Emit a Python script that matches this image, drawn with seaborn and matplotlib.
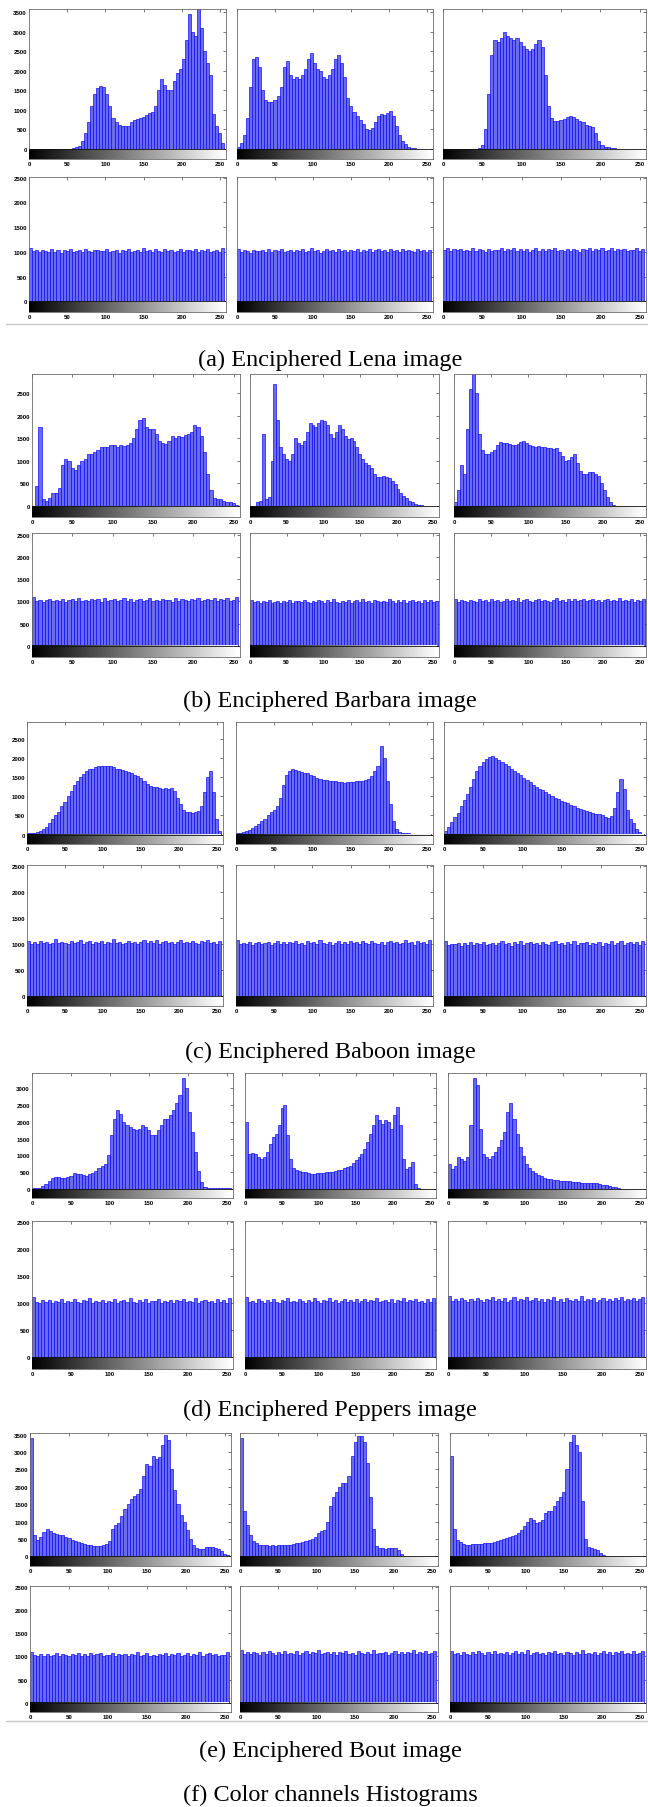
import numpy as np
import pandas as pd
import matplotlib
matplotlib.use("Agg")
import matplotlib.pyplot as plt
import seaborn as sns

# ------------------------------ data ------------------------------
# 64 bins of 4 grey levels each, value = count per grey level
levels = np.arange(2, 256, 4)

# plain images, channels R, G, B
lena_r = [0, 0, 0, 0, 0, 0, 0, 0, 0, 0, 0, 0, 5, 10, 20, 40,
          80, 200, 400, 700, 1100, 1400, 1550, 1620, 1600, 1400, 1100, 800, 700, 620, 580, 580,
          600, 680, 730, 760, 800, 820, 880, 920, 960, 1100, 1500, 1800, 1650, 1500, 1520, 1750,
          1950, 2050, 2300, 2800, 3450, 3000, 2900, 3600, 3100, 2500, 2200, 1900, 900, 600, 400, 150]
lena_g = [50, 150, 350, 800, 1600, 2300, 2350, 2100, 1500, 1250, 1200, 1200, 1250, 1350, 1600, 2100,
          2250, 1900, 1800, 1850, 1800, 1900, 2050, 2300, 2450, 2200, 2050, 2000, 1850, 1800, 1900, 2050,
          2300, 2400, 2200, 1850, 1300, 1100, 950, 850, 750, 650, 520, 480, 550, 700, 850, 900,
          880, 920, 980, 850, 600, 350, 200, 120, 60, 30, 15, 10, 5, 5, 3, 2]
lena_b = [0, 0, 0, 0, 0, 0, 0, 0, 0, 0, 5, 20, 100, 500, 1400, 2400,
          2800, 2750, 2850, 3000, 2900, 2850, 2800, 2850, 2750, 2650, 2550, 2500, 2550, 2700, 2800, 2600,
          1900, 1100, 800, 720, 720, 750, 780, 830, 850, 830, 760, 720, 680, 620, 600, 560,
          400, 200, 90, 60, 40, 25, 15, 10, 8, 5, 5, 3, 2, 2, 0, 0]

barbara_r = [0, 450, 1750, 150, 120, 180, 300, 280, 400, 900, 1050, 1000, 850, 800, 900, 1000,
             1050, 1150, 1150, 1200, 1250, 1300, 1300, 1300, 1350, 1350, 1320, 1350, 1330, 1350, 1400, 1500,
             1700, 1900, 1950, 1750, 1700, 1700, 1600, 1450, 1400, 1380, 1450, 1550, 1500, 1550, 1520, 1580,
             1600, 1650, 1800, 1750, 1550, 1200, 700, 350, 180, 160, 150, 120, 100, 80, 60, 30]
barbara_g = [0, 0, 80, 120, 1600, 150, 200, 1000, 2700, 1900, 1300, 1150, 1050, 1000, 1150, 1500,
             1400, 1350, 1450, 1650, 1850, 1800, 1750, 1850, 1900, 1880, 1800, 1600, 1500, 1650, 1800, 1700,
             1550, 1480, 1500, 1450, 1300, 1150, 1050, 950, 900, 850, 700, 650, 640, 660, 650, 620,
             560, 480, 380, 300, 230, 180, 120, 80, 50, 30, 20, 10, 5, 3, 2, 0]
barbara_b = [100, 350, 900, 700, 1700, 2600, 2950, 2500, 1600, 1250, 1150, 1150, 1200, 1250, 1350, 1420,
             1400, 1400, 1380, 1350, 1350, 1380, 1420, 1450, 1400, 1350, 1330, 1320, 1330, 1300, 1300, 1280,
             1290, 1270, 1280, 1200, 1100, 1000, 1020, 1080, 1150, 950, 780, 700, 720, 760, 760, 720,
             660, 520, 350, 200, 90, 30, 10, 3, 0, 0, 0, 0, 0, 0, 0, 0]

baboon_r = [30, 40, 50, 80, 100, 150, 200, 300, 400, 500, 600, 750, 850, 1000, 1150, 1300,
            1400, 1500, 1580, 1650, 1700, 1720, 1760, 1780, 1800, 1790, 1780, 1800, 1760, 1720, 1700, 1680,
            1650, 1630, 1600, 1560, 1520, 1480, 1400, 1320, 1280, 1250, 1240, 1220, 1200, 1210, 1200, 1220,
            1150, 950, 800, 650, 600, 580, 560, 580, 620, 750, 1100, 1500, 1650, 1100, 400, 100]
baboon_g = [30, 50, 80, 100, 130, 180, 220, 280, 350, 420, 500, 580, 650, 750, 950, 1300,
            1550, 1650, 1700, 1680, 1650, 1620, 1600, 1600, 1560, 1530, 1480, 1460, 1430, 1420, 1400, 1390,
            1400, 1380, 1360, 1350, 1370, 1380, 1380, 1390, 1400, 1410, 1430, 1450, 1520, 1650, 1800, 2300,
            2000, 1400, 800, 350, 150, 80, 50, 40, 30, 25, 20, 20, 20, 15, 15, 10]
baboon_b = [100, 200, 320, 450, 560, 750, 900, 1050, 1250, 1450, 1650, 1800, 1900, 1980, 2020, 2050,
            2000, 1950, 1900, 1830, 1780, 1720, 1650, 1600, 1550, 1480, 1420, 1370, 1300, 1250, 1200, 1160,
            1100, 1050, 1000, 960, 920, 880, 850, 820, 780, 750, 700, 670, 640, 620, 600, 570,
            550, 530, 500, 460, 430, 480, 700, 1100, 1450, 1200, 650, 420, 300, 150, 60, 20]

peppers_r = [20, 30, 40, 80, 150, 250, 330, 350, 350, 340, 340, 350, 400, 470, 460, 440,
             420, 400, 440, 490, 550, 620, 700, 750, 1000, 1600, 2100, 2350, 2250, 2000, 1900, 1850,
             1800, 1750, 1800, 1900, 1850, 1750, 1600, 1600, 1750, 1900, 2100, 2100, 2200, 2350, 2550, 2800,
             3300, 3000, 2300, 1700, 1100, 550, 200, 60, 30, 20, 20, 20, 20, 20, 20, 20]
peppers_g = [2000, 1050, 1080, 1050, 950, 880, 950, 1100, 1350, 1550, 1650, 1900, 2400, 2500, 1600, 900,
             620, 560, 540, 520, 500, 480, 460, 450, 470, 480, 480, 500, 500, 520, 540, 560,
             580, 620, 660, 700, 780, 860, 950, 1050, 1200, 1400, 1650, 1900, 2200, 2050, 1950, 2050,
             2000, 1800, 2200, 2450, 1900, 900, 600, 650, 800, 150, 30, 10, 5, 3, 2, 0]
peppers_b = [750, 600, 680, 950, 880, 820, 950, 1900, 3300, 3100, 1800, 1050, 950, 900, 980, 1100,
             1250, 1450, 1700, 2300, 2550, 2100, 1650, 1250, 980, 750, 620, 540, 470, 420, 380, 340,
             310, 290, 270, 260, 250, 250, 240, 230, 220, 210, 200, 190, 180, 180, 185, 180,
             170, 150, 130, 110, 90, 70, 50, 20, 10, 5, 3, 2, 2, 0, 0, 0]

bout_r = [3400, 600, 460, 550, 700, 790, 740, 660, 630, 610, 600, 560, 520, 480, 440, 400,
          380, 360, 340, 320, 310, 300, 310, 320, 350, 450, 800, 900, 950, 1150, 1350, 1500,
          1650, 1750, 1800, 1950, 2300, 2650, 2600, 2900, 2800, 2850, 3200, 3500, 3350, 2500, 1900, 1500,
          1200, 1000, 750, 500, 320, 230, 200, 220, 260, 270, 270, 240, 200, 140, 80, 30]
bout_g = [3400, 1300, 900, 600, 450, 380, 340, 320, 320, 310, 320, 310, 320, 320, 330, 330,
          340, 360, 380, 390, 410, 440, 470, 500, 560, 680, 720, 760, 1000, 1450, 1700, 1850,
          2000, 2100, 2100, 2300, 2900, 3300, 3450, 3450, 3300, 2700, 1700, 800, 300, 250, 230, 220,
          230, 240, 250, 180, 60, 20, 10, 5, 3, 2, 0, 0, 0, 0, 0, 0]
bout_b = [2900, 800, 480, 400, 360, 330, 340, 350, 350, 360, 360, 370, 370, 380, 400, 430,
          470, 510, 530, 550, 580, 620, 660, 760, 880, 1000, 1100, 1050, 960, 980, 1050, 1250,
          1300, 1300, 1450, 1600, 1700, 1850, 2500, 3300, 3500, 3200, 3000, 1600, 500, 260, 230, 220,
          180, 100, 50, 20, 10, 5, 3, 2, 0, 0, 0, 0, 0, 0, 0, 0]

# enciphered images, channels R, G, B
lena_enc_r = [1080, 1010, 1035, 990, 1042, 1018, 996, 1051, 1003, 1029, 984, 1040, 1012, 1057, 998, 1021,
              1036, 1004, 1068, 1015, 991, 1033, 1047, 1009, 1025, 1062, 1001, 1019, 1044, 987, 1030, 1013,
              1055, 1008, 1027, 1041, 995, 1072, 1016, 1034, 1002, 1049, 1023, 989, 1060, 1011, 1038, 1006,
              1026, 1053, 997, 1031, 1045, 1014, 1066, 1000, 1037, 1020, 1058, 993, 1028, 1046, 1007, 1074]
lena_enc_g = [1064, 1002, 1030, 1018, 985, 1047, 1011, 1026, 1039, 994, 1052, 1008, 1033, 1017, 1060, 999,
              1024, 1043, 990, 1036, 1012, 1055, 1005, 1028, 1069, 1015, 1040, 983, 1022, 1050, 1009, 1035,
              1001, 1058, 1019, 1031, 996, 1045, 1027, 1063, 1006, 1038, 1014, 1049, 992, 1029, 1056, 1010,
              1041, 1003, 1067, 1021, 1034, 988, 1053, 1016, 1044, 1025, 1000, 1059, 1013, 1037, 1007, 1048]
lena_enc_b = [1042, 1070, 1018, 1055, 1031, 1063, 1009, 1047, 1026, 1078, 1014, 1051, 1037, 1004, 1066, 1022,
              1045, 1029, 1073, 1012, 1058, 1035, 1081, 1019, 1049, 1027, 1064, 1008, 1040, 1071, 1024, 1053,
              1016, 1060, 1033, 1076, 1011, 1046, 1028, 1068, 1021, 1057, 1039, 1005, 1062, 1030, 1074, 1017,
              1050, 1036, 1069, 1023, 1044, 1080, 1013, 1056, 1032, 1065, 1020, 1048, 1038, 1072, 1025, 1059]

barbara_enc_r = [1095, 1012, 1041, 998, 1027, 1058, 1005, 1036, 1019, 1064, 993, 1030, 1049, 1008, 1072, 1016,
                 1038, 1001, 1055, 1023, 1044, 990, 1067, 1014, 1032, 1051, 1003, 1039, 1076, 1020, 1045, 997,
                 1029, 1061, 1010, 1043, 1085, 1018, 1034, 1006, 1057, 1025, 1040, 992, 1069, 1015, 1047, 1033,
                 1002, 1054, 1026, 1079, 1011, 1042, 1063, 1021, 1088, 1009, 1050, 1037, 1073, 1017, 1031, 1090]
barbara_enc_g = [1035, 982, 1004, 968, 1012, 991, 1026, 975, 998, 1019, 963, 1008, 986, 1031, 972, 1001,
                 1016, 979, 1040, 994, 966, 1011, 987, 1028, 1003, 970, 1022, 984, 1045, 996, 974, 1013,
                 989, 1033, 961, 1006, 1024, 980, 1048, 993, 1015, 969, 1037, 999, 977, 1020, 985, 1052,
                 1002, 971, 1029, 990, 1043, 976, 1009, 1036, 983, 1018, 965, 1025, 997, 1041, 981, 1010]
barbara_enc_b = [1050, 992, 1021, 1007, 985, 1036, 1014, 998, 1044, 1003, 1027, 989, 1060, 1011, 1032, 995,
                 1018, 1053, 1000, 1039, 1008, 1066, 993, 1024, 1047, 1013, 987, 1030, 1058, 1005, 1041, 1016,
                 996, 1035, 1070, 1009, 1026, 990, 1045, 1019, 1062, 1002, 1033, 1054, 999, 1028, 1065, 1012,
                 1038, 994, 1023, 1057, 1006, 1043, 1015, 1075, 1001, 1034, 1020, 1049, 997, 1037, 1010, 1055]

baboon_enc_r = [1060, 1005, 1032, 995, 1048, 1017, 1039, 1001, 1027, 1085, 1010, 1043, 1022, 999, 1058, 1014,
                1035, 1070, 1008, 1029, 1051, 992, 1038, 1019, 1064, 1003, 1045, 1025, 1090, 1012, 1037, 1000,
                1026, 1054, 1016, 1041, 997, 1033, 1067, 1009, 1047, 1021, 1078, 1006, 1030, 1052, 1015, 1040,
                1002, 1036, 1083, 1018, 1044, 1011, 1062, 1024, 996, 1049, 1028, 1071, 1013, 1034, 1004, 1057]
baboon_enc_g = [1075, 990, 1018, 1002, 1033, 985, 1026, 1045, 997, 1012, 1038, 980, 1021, 1054, 1006, 1030,
                993, 1041, 1015, 1060, 1000, 1027, 988, 1049, 1010, 1035, 996, 1068, 1019, 1003, 1044, 982,
                1024, 1056, 1008, 1031, 991, 1052, 1013, 1039, 1001, 1063, 1016, 994, 1047, 1022, 1005, 1036,
                987, 1029, 1058, 1011, 1042, 998, 1025, 1066, 1009, 1034, 983, 1051, 1017, 1040, 995, 1072]
baboon_enc_b = [1050, 975, 1003, 992, 1021, 968, 1010, 986, 1034, 979, 1015, 998, 1042, 971, 1007, 1026,
                984, 1013, 1047, 990, 1019, 966, 1031, 1001, 1055, 982, 1009, 1037, 994, 1024, 977, 1044,
                1005, 988, 1028, 1060, 996, 1016, 973, 1039, 1000, 1052, 985, 1023, 1011, 1046, 980, 1018,
                993, 1035, 969, 1027, 1004, 1058, 987, 1020, 1049, 978, 1012, 1041, 997, 1030, 983, 1065]

peppers_enc_r = [1110, 1030, 1008, 1052, 1019, 1065, 999, 1040, 1023, 1081, 1006, 1047, 1015, 1071, 1028, 1002,
                 1056, 1035, 1090, 1012, 1044, 1021, 1068, 1004, 1050, 1027, 1075, 1010, 1039, 1062, 1017, 1096,
                 1031, 1001, 1058, 1024, 1085, 1013, 1046, 1033, 1072, 1007, 1042, 1020, 1066, 1000, 1054, 1036,
                 1079, 1014, 1049, 1026, 1093, 1009, 1038, 1060, 1018, 1045, 1003, 1070, 1029, 1057, 1011, 1100]
peppers_enc_g = [1120, 1025, 1050, 1011, 1069, 1037, 1004, 1058, 1022, 1085, 1030, 1009, 1063, 1041, 1095, 1016,
                 1048, 1027, 1072, 1035, 1003, 1061, 1019, 1088, 1044, 1013, 1066, 1032, 1100, 1024, 1055, 1008,
                 1039, 1076, 1017, 1051, 1029, 1083, 1006, 1046, 1070, 1021, 1057, 1036, 1092, 1014, 1043, 1065,
                 1026, 1079, 1010, 1053, 1034, 1097, 1018, 1060, 1040, 1074, 1023, 1049, 1007, 1081, 1031, 1105]
peppers_enc_b = [1140, 1048, 1075, 1032, 1090, 1056, 1021, 1083, 1044, 1102, 1060, 1029, 1087, 1052, 1115, 1038,
                 1070, 1045, 1096, 1026, 1063, 1108, 1040, 1079, 1054, 1120, 1035, 1068, 1092, 1047, 1076, 1030,
                 1085, 1058, 1112, 1042, 1071, 1024, 1099, 1061, 1036, 1082, 1050, 1125, 1039, 1073, 1057, 1094,
                 1028, 1067, 1103, 1046, 1080, 1033, 1088, 1064, 1118, 1043, 1077, 1055, 1098, 1037, 1069, 1106]

bout_enc_r = [1090, 1028, 1003, 1045, 1017, 1060, 1009, 1036, 1072, 1012, 1049, 1024, 1001, 1058, 1033, 1079,
              1015, 1042, 1006, 1065, 1027, 1051, 1084, 1011, 1038, 1020, 1070, 1004, 1046, 1030, 1062, 1013,
              1055, 1025, 1092, 1008, 1040, 1068, 1019, 1035, 1000, 1057, 1029, 1081, 1014, 1047, 1022, 1066,
              1005, 1039, 1075, 1018, 1052, 1031, 1087, 1010, 1044, 1063, 1021, 1056, 1002, 1037, 1026, 1095]
bout_enc_g = [1130, 1060, 1085, 1042, 1100, 1067, 1031, 1092, 1055, 1118, 1073, 1040, 1096, 1062, 1125, 1050,
              1081, 1058, 1110, 1036, 1075, 1120, 1048, 1089, 1065, 1135, 1044, 1078, 1103, 1057, 1086, 1039,
              1095, 1069, 1122, 1052, 1080, 1033, 1108, 1071, 1046, 1093, 1061, 1140, 1049, 1083, 1066, 1105,
              1037, 1077, 1114, 1056, 1090, 1043, 1099, 1074, 1128, 1053, 1087, 1064, 1112, 1047, 1079, 1116]
bout_enc_b = [1115, 1055, 1078, 1036, 1094, 1062, 1027, 1088, 1050, 1112, 1068, 1034, 1091, 1057, 1120, 1045,
              1076, 1053, 1104, 1031, 1070, 1116, 1043, 1085, 1060, 1130, 1039, 1073, 1098, 1052, 1082, 1035,
              1090, 1064, 1118, 1047, 1075, 1029, 1102, 1066, 1041, 1088, 1056, 1135, 1044, 1079, 1061, 1100,
              1032, 1072, 1109, 1051, 1086, 1038, 1094, 1069, 1123, 1048, 1081, 1059, 1107, 1042, 1074, 1126]

captions = ["(a) Enciphered Lena image", "(b) Enciphered Barbara image",
            "(c) Enciphered Baboon image", "(d) Enciphered Peppers image",
            "(e) Enciphered Bout image"]
final_caption = "(f) Color channels Histograms"
xtick_vals = [0, 50, 100, 150, 200, 250]

plain = [[lena_r, lena_g, lena_b], [barbara_r, barbara_g, barbara_b],
         [baboon_r, baboon_g, baboon_b], [peppers_r, peppers_g, peppers_b],
         [bout_r, bout_g, bout_b]]
cipher = [[lena_enc_r, lena_enc_g, lena_enc_b], [barbara_enc_r, barbara_enc_g, barbara_enc_b],
          [baboon_enc_r, baboon_enc_g, baboon_enc_b], [peppers_enc_r, peppers_enc_g, peppers_enc_b],
          [bout_enc_r, bout_enc_g, bout_enc_b]]

# ------------------------------ layout (pixels) ------------------------------
W, H = 648, 1808
cols = [[(29, 226), (237, 433), (443, 646)],
        [(32, 240), (250, 439), (454, 646)],
        [(27, 223), (236, 433), (444, 646)],
        [(32, 233), (245, 436), (448, 646)],
        [(30, 231), (240, 438), (450, 646)]]
rows = [[(10, 160), (178, 313)],
        [(375, 518), (534, 658)],
        [(723, 845), (866, 1007)],
        [(1074, 1199), (1222, 1370)],
        [(1434, 1567), (1587, 1713)]]
ylims = [[(-256, 3585), (-214, 2513)],
         [(-243, 2928), (-248, 2537)],
         [(-244, 2935), (-190, 2513)],
         [(-268, 3457), (-216, 2520)],
         [(-278, 3550), (-200, 2520)]]
caption_y = [360, 701, 1052, 1410, 1751]

sns.set_theme(style="white")
plt.rcParams['font.family'] = ['Liberation Sans', 'DejaVu Sans']

FACE = '#6a6aec'
EDGE = '#0000ff'
grad = np.linspace(0, 1, 256)[None, :]

fig = plt.figure(figsize=(W / 100, H / 100), dpi=100)


def draw_panel(rect, counts, ylo, yhi, ylabels):
    ax = fig.add_axes(rect)
    df = pd.DataFrame({'level': levels, 'count': counts})
    sns.histplot(data=df, x='level', weights='count', binwidth=4, binrange=(0, 256),
                 ax=ax, color=FACE, edgecolor=EDGE, linewidth=0.45, alpha=1)
    ax.imshow(grad, cmap='gray', extent=(0, 255, ylo, 0), aspect='auto', zorder=3)
    ax.axhline(0, color='#111111', lw=0.6, zorder=4)
    ax.set_xlim(0, 258)
    ax.set_ylim(ylo, yhi)
    ax.set_xlabel('')
    ax.set_ylabel('')
    ax.set_xticks(xtick_vals)
    ax.set_yticks(np.arange(0, yhi, 500))
    ax.tick_params(direction='in', length=2.5, width=0.5, color='#444444',
                   top=True, right=True, labelsize=4.4, pad=1.5, labelcolor='black')
    for lab in ax.get_xticklabels() + ax.get_yticklabels():
        lab.set_fontweight('bold')
    if not ylabels:
        ax.set_yticklabels([])
    for s in ax.spines.values():
        s.set_color('#6a6a6a')
        s.set_linewidth(0.6)
    return ax


for g in range(5):
    for r, series in enumerate([plain[g], cipher[g]]):
        y0, y1 = rows[g][r]
        ylo, yhi = ylims[g][r]
        for c in range(3):
            x0, x1 = cols[g][c]
            rect = [x0 / W, 1 - y1 / H, (x1 - x0) / W, (y1 - y0) / H]
            draw_panel(rect, series[c], ylo, yhi, c == 0)
    fig.text(330 / W, 1 - caption_y[g] / H, captions[g], ha='center', va='center',
             fontsize=17.5, family='Liberation Serif', color='black')

fig.text(330 / W, 1 - 1795 / H, final_caption, ha='center', va='center',
         fontsize=17.5, family='Liberation Serif', color='black')

# thin grey rules under the first and last groups
for yy in [325, 1722]:
    fig.add_artist(plt.Line2D([0.01, 1.0], [1 - yy / H, 1 - yy / H],
                              color='#c8c8c8', lw=1.0, transform=fig.transFigure))

fig.savefig('out.png', dpi=100)
